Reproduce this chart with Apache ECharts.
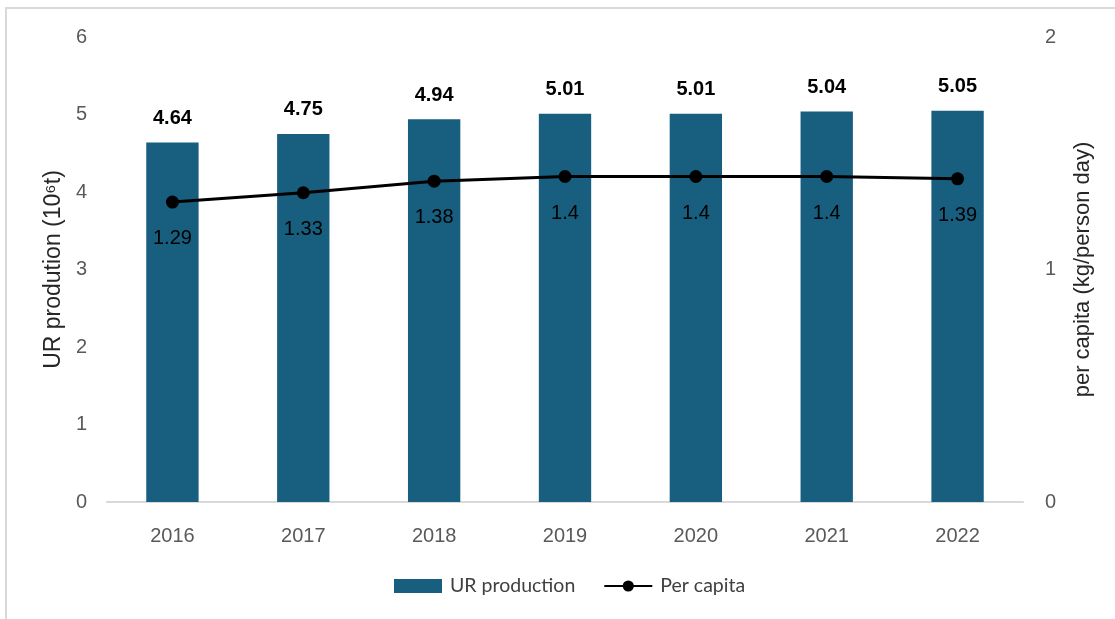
<!DOCTYPE html>
<html>
<head>
<meta charset="utf-8">
<script src="https://cdn.jsdelivr.net/npm/echarts@6/dist/echarts.min.js"></script>
<style>
  html, body { margin: 0; padding: 0; background: #fff; }
  #chart { width: 1115px; height: 619px; }
</style>
</head>
<body>
<div id="chart"></div>
<script>
// Urban residue production and per-capita generation, 2016–2022
const years = ['2016', '2017', '2018', '2019', '2020', '2021', '2022'];
const production = [4.64, 4.75, 4.94, 5.01, 5.01, 5.04, 5.05];   // 10^6 t
const perCapita = [1.29, 1.33, 1.38, 1.4, 1.4, 1.4, 1.39];       // kg/person day
const leftTicks = [0, 1, 2, 3, 4, 5, 6];
const rightTicks = [0, 1, 2];

const chart = echarts.init(document.getElementById('chart'), null, { renderer: 'canvas' });

const sans = 'Liberation Sans, Arial, sans-serif';
const tickFont = { color: '#595959', fontSize: 20, fontFamily: sans };

chart.setOption({
  animation: false,
  backgroundColor: '#fff',
  graphic: [{
    type: 'rect',
    shape: { x: 6, y: 8, width: 1200, height: 700 },
    style: { fill: 'none', stroke: '#d9d9d9', lineWidth: 2 },
    silent: true
  }],
  grid: { left: 107, right: 92, top: 37, bottom: 117, containLabel: false },
  legend: {
    bottom: 18,
    left: 389,
    itemGap: 28,
    itemWidth: 48,
    itemHeight: 14,
    textStyle: { color: '#404040', fontSize: 19.5, fontFamily: 'Lato, sans-serif', padding: [0, 0, 0, 3] },
    data: [
      { name: 'UR production', icon: 'rect' },
      { name: 'Per capita' }
    ]
  },
  xAxis: {
    type: 'category',
    data: years,
    axisLine: { lineStyle: { color: '#d9d9d9', width: 2 } },
    axisTick: { show: false },
    axisLabel: Object.assign({ margin: 24 }, tickFont)
  },
  yAxis: [{
    type: 'value',
    min: leftTicks[0],
    max: leftTicks[leftTicks.length - 1],
    interval: 1,
    name: 'UR prodution (10⁶t)',
    nameLocation: 'middle',
    nameGap: 40,
    nameTextStyle: { color: '#262626', fontSize: 23, fontFamily: sans },
    splitLine: { show: false },
    axisLine: { show: false },
    axisTick: { show: false },
    axisLabel: Object.assign({ margin: 20 }, tickFont)
  }, {
    type: 'value',
    min: rightTicks[0],
    max: rightTicks[rightTicks.length - 1],
    interval: 1,
    name: 'per capita (kg/person day)',
    nameLocation: 'middle',
    nameGap: 49,
    nameRotate: 90,
    nameTextStyle: { color: '#262626', fontSize: 22, fontFamily: sans },
    splitLine: { show: false },
    axisLine: { show: false },
    axisTick: { show: false },
    axisLabel: Object.assign({ margin: 22 }, tickFont)
  }],
  series: [{
    name: 'UR production',
    type: 'bar',
    data: production,
    barWidth: '40%',
    itemStyle: { color: '#175e7f' },
    label: {
      show: true,
      position: 'top',
      distance: 14,
      color: '#000',
      fontWeight: 'bold',
      fontSize: 20,
      fontFamily: sans
    }
  }, {
    name: 'Per capita',
    type: 'line',
    yAxisIndex: 1,
    data: perCapita,
    symbol: 'circle',
    symbolSize: 13,
    itemStyle: { color: '#000' },
    lineStyle: { color: '#000', width: 3 },
    label: {
      show: true,
      position: 'bottom',
      distance: 20,
      color: '#000',
      fontSize: 20,
      fontFamily: sans
    }
  }]
});
</script>
</body>
</html>
